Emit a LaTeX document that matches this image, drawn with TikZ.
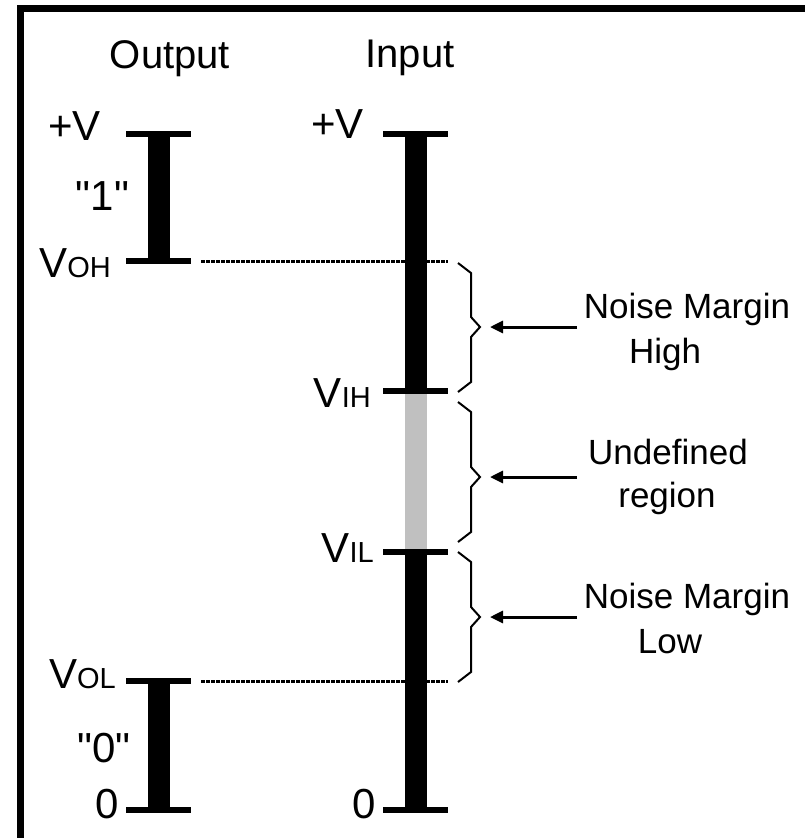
\documentclass[tikz,border=0pt]{standalone}
\usepackage{fontspec}
\setmainfont{Liberation Sans}[Ligatures=TeXOff]
\usetikzlibrary{arrows.meta}
\definecolor{undef}{RGB}{192,192,192}
\newcommand{\vsub}[1]{{\fontsize{29}{34}\selectfont #1}}

\begin{document}
\begin{tikzpicture}[
  x=1pt, y=-1pt,
  tick/.style={fill=black, minimum width=65pt, minimum height=6pt, inner sep=0pt},
  rail/.style={line width=22pt},
  lbl/.style={font=\fontsize{42}{48}\selectfont, inner sep=0pt},
  head/.style={font=\fontsize{40}{46}\selectfont, inner sep=0pt},
  note/.style={font=\fontsize{35}{42}\selectfont, inner sep=0pt},
  guide/.style={line width=3pt, dash pattern=on 3.5pt off 1.5pt},
  brc/.style={line width=2pt},
  arr/.style={-{Triangle[length=13pt,width=12pt]}, line width=3pt}]
\useasboundingbox (0,0) rectangle (804,838);
\draw[line width=7pt] (20.5,860) |- (830,8.5);
% headings
\node[head, anchor=base] (outp) at (170,68) {Output};
\node[head, anchor=base] (inp) at (410,67) {Input};
% level ticks
\node[tick] (otop) at (158.5,134) {};
\node[tick] (oh) at (158.5,261) {};
\node[tick] (ol) at (158.5,681) {};
\node[tick] (obot) at (158.5,810) {};
\node[tick] (itop) at (415.5,134) {};
\node[tick] (ih) at (415.5,391) {};
\node[tick] (il) at (415.5,552) {};
\node[tick] (ibot) at (415.5,810) {};
% dotted guides
\draw[guide] ([xshift=10pt]oh.east) -- (oh -| ih.east);
\draw[guide] ([xshift=10pt]ol.east) -- (ol -| il.east);
% rails
\draw[rail] (otop.center) -- (oh.center);
\draw[rail] (ol.center) -- (obot.center);
\draw[rail] (itop.center) -- (ibot.center);
\draw[rail, undef] (ih.south) -- (il.north);
% level labels
\node[lbl, anchor=base east] (ovp) at (101,140) {+V};
\node[lbl, anchor=base] (one) at (102.5,210) {"1"};
\node[lbl, anchor=base east] (voh) at (111,277) {V\vsub{OH}};
\node[lbl, anchor=base east] (vol) at (116,688) {V\vsub{OL}};
\node[lbl, anchor=base] (zero) at (104,762) {"0"};
\node[lbl, anchor=base east] (ogd) at (119,818) {0};
\node[lbl, anchor=base east] (ivp) at (364,138) {+V};
\node[lbl, anchor=base east] (vih) at (371,407) {V\vsub{IH}};
\node[lbl, anchor=base east] (vil) at (374,562) {V\vsub{IL}};
\node[lbl, anchor=base east] (igd) at (376,818) {0};
% braces and arrows
\foreach \t/\b/\m/\n in {263/392/327/1, 402/542/477/2, 552/682/617/3} {
  \draw[brc] (458,\t) -- (471,\t+10) -- (471,\m-10) -- (480,\m)
    -- (471,\m+10) -- (471,\b-10) -- (458,\b);
  \coordinate (tip\n) at (490,\m);
  \coordinate (src\n) at (577,\m);
  \draw[arr] (src\n) -- (tip\n);
}
% notes
\node[note, anchor=base] (nmh) at (687,318) {Noise Margin};
\node[note, anchor=base] (nmhb) at (665,363) {High};
\node[note, anchor=base] (ur) at (668,464) {Undefined};
\node[note, anchor=base] (urb) at (667,507) {region};
\node[note, anchor=base] (nml) at (687,608) {Noise Margin};
\node[note, anchor=base] (nmlb) at (670,653) {Low};
\end{tikzpicture}
\end{document}
